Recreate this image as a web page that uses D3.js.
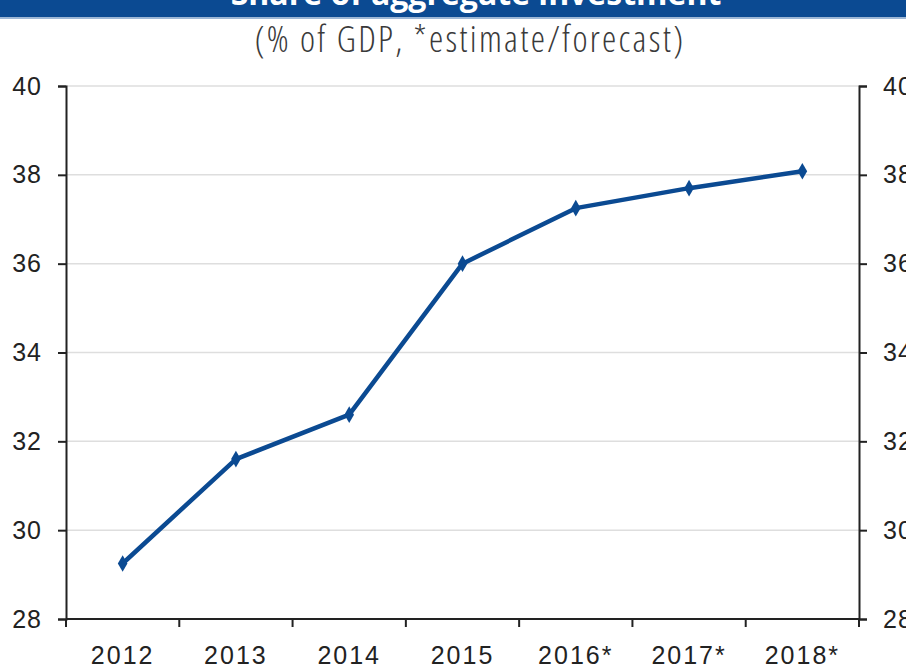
<!DOCTYPE html>
<html>
<head>
<meta charset="utf-8">
<script src="https://cdn.jsdelivr.net/npm/d3@7"></script>
<style>
  body { margin: 0; background: #fff; }
  svg { display: block; }
</style>
</head>
<body>
<svg id="chart"></svg>
<script>
const years = ["2012", "2013", "2014", "2015", "2016*", "2017*", "2018*"];
const share = [29.25, 31.6, 32.6, 36.0, 37.25, 37.7, 38.08];
const yTicks = [28, 30, 32, 34, 36, 38, 40];

const width = 906, height = 669;
const margin = { top: 86, right: 47, bottom: 50, left: 66 };

const svg = d3.select("#chart")
    .attr("width", width)
    .attr("height", height);

// title band, cut at the top of the picture
svg.append("rect")
    .attr("x", 0).attr("y", 0)
    .attr("width", width).attr("height", 17)
    .attr("fill", "#0b4a92");
svg.append("rect")
    .attr("x", 0).attr("y", 17)
    .attr("width", width).attr("height", 2)
    .attr("fill", "#9db7d6");
svg.append("text")
    .attr("x", 476).attr("y", 5)
    .attr("text-anchor", "middle")
    .attr("fill", "#fff")
    .style("font-family", "'Open Sans', sans-serif")
    .style("font-weight", "bold")
    .style("font-size", "32px")
    .text("Share of aggregate investment");

svg.append("text")
    .attr("x", 470).attr("y", 52)
    .attr("text-anchor", "middle")
    .attr("fill", "#3a3a3a")
    .style("font-family", "'Open Sans', sans-serif")
    .style("font-weight", "300")
    .style("font-size", "36px")
    .style("letter-spacing", "2.3px")
    .style("font-stretch", "condensed")
    .text("(% of GDP, *estimate/forecast)");

const x = d3.scaleBand()
    .domain(years)
    .range([margin.left, width - margin.right]);

const y = d3.scaleLinear()
    .domain([28, 40])
    .range([height - margin.bottom, margin.top]);

// gridlines
svg.append("g")
    .selectAll("line")
    .data(yTicks.filter(d => d > 28))
    .enter()
    .append("line")
    .attr("x1", margin.left)
    .attr("x2", width - margin.right)
    .attr("y1", d => y(d))
    .attr("y2", d => y(d))
    .attr("stroke", "#dedede")
    .attr("stroke-width", 1.5);

const fontStyle = sel => sel.selectAll("text")
    .style("font-family", "'Liberation Sans', Arial, sans-serif")
    .style("font-size", "25px")
    .style("letter-spacing", "1px")
    .attr("fill", "#222");

const leftAxis = svg.append("g")
    .attr("transform", `translate(${margin.left},0)`)
    .call(d3.axisLeft(y).tickValues(yTicks).tickSize(8).tickPadding(16));
leftAxis.call(fontStyle);

const rightAxis = svg.append("g")
    .attr("transform", `translate(${width - margin.right},0)`)
    .call(d3.axisRight(y).tickValues(yTicks).tickSize(8).tickPadding(16));
rightAxis.call(fontStyle);

// x axis: ticks on category boundaries
const xAxis = svg.append("g")
    .attr("transform", `translate(0,${height - margin.bottom})`);
xAxis.append("line")
    .attr("x1", margin.left)
    .attr("x2", width - margin.right)
    .attr("stroke", "#222")
    .attr("stroke-width", 2);
const bounds = years.map(d => x(d)).concat([x(years[years.length - 1]) + x.bandwidth()]);
xAxis.selectAll("line.tick")
    .data(bounds)
    .enter()
    .append("line")
    .attr("class", "tick")
    .attr("x1", d => d).attr("x2", d => d)
    .attr("y1", 0).attr("y2", 8)
    .attr("stroke", "#222")
    .attr("stroke-width", 2);
xAxis.selectAll("text")
    .data(years)
    .enter()
    .append("text")
    .attr("x", d => x(d) + x.bandwidth() / 2)
    .attr("y", 45)
    .attr("text-anchor", "middle")
    .attr("fill", "#222")
    .style("font-family", "'Liberation Sans', Arial, sans-serif")
    .style("font-size", "25px")
    .style("letter-spacing", "2px")
    .text(d => d);

[leftAxis, rightAxis].forEach(a => {
    a.select(".domain").attr("stroke", "#222").attr("stroke-width", 2);
    a.selectAll(".tick line").attr("stroke", "#222").attr("stroke-width", 2);
});

const line = d3.line()
    .x((d, i) => x(years[i]) + x.bandwidth() / 2)
    .y(d => y(d));

svg.append("path")
    .datum(share)
    .attr("d", line)
    .attr("fill", "none")
    .attr("stroke", "#0b4a92")
    .attr("stroke-width", 4.5)
    .attr("stroke-linejoin", "round");

svg.append("g")
    .selectAll("path")
    .data(share)
    .enter()
    .append("path")
    .attr("d", d3.symbol().type(d3.symbolDiamond).size(80))
    .attr("transform", (d, i) => `translate(${x(years[i]) + x.bandwidth() / 2},${y(d)})`)
    .attr("fill", "#0b4a92");
</script>
</body>
</html>
